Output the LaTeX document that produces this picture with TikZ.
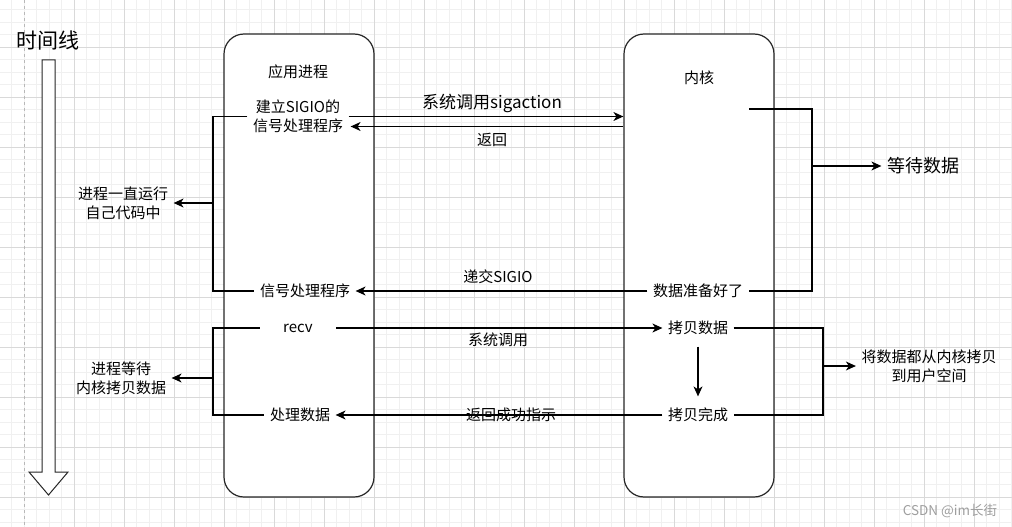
\documentclass[tikz,border=0pt]{standalone}
\usepackage{fontspec}
\setmainfont{Noto Sans CJK SC}
\usetikzlibrary{arrows.meta,calc}

\begin{document}
\begin{tikzpicture}[x=1pt,y=-1pt,line width=1.2pt,>={Stealth[length=10pt,width=9pt,inset=3pt]},box/.style ={rectangle, draw=black!85, fill=white, rounded corners=20pt, minimum width=150pt, minimum height=463pt},lbl/.style={inner sep=5pt, align=center, font=\fontsize{15}{19}\selectfont},gridminor/.style={draw=black!6, line width=0.8pt},gridmajor/.style={draw=black!15, line width=0.8pt}]
\useasboundingbox (0,0) rectangle (1012,527);
% grid
\foreach \gx in {-1,11.5,...,1012} \draw[gridminor] (\gx,0) -- (\gx,527);
\foreach \gy in {-3,9.5,...,527} \draw[gridminor] (0,\gy) -- (1012,\gy);
\foreach \gx in {74,124,...,974} \draw[gridmajor] (\gx,0) -- (\gx,527);
\foreach \gy in {47,97,...,497} \draw[gridmajor] (0,\gy) -- (1012,\gy);
\draw[gridmajor,dashed,draw=black!28] (24,0) -- (24,527);
\draw (48,40) node[lbl,font=\fontsize{21}{25}\selectfont] (T) {时间线};
\draw[line width=1pt,draw=black!85,fill=white] (42,60) -- (55,60) -- (55,472) -- (68,472) -- (48.5,495) -- (29,472) -- (42,472) -- cycle;
\draw (299,265.5) node[box] (A) {};
\draw (699,265.5) node[box] (K) {};
\draw (298,72) node[lbl] (A1) {应用进程};
\draw (298,116.5) node[lbl] (A2) {建立SIGIO的\\信号处理程序};
\draw (305,291) node[lbl] (A3) {信号处理程序};
\draw (298,328) node[lbl,minimum width=75pt] (A4) {recv};
\draw (300,415) node[lbl] (A5) {处理数据};
\draw (699,78) node[lbl] (K1) {内核};
\draw (698,291) node[lbl] (K2) {数据准备好了};
\draw (698,328) node[lbl] (K3) {拷贝数据};
\draw (698,415) node[lbl] (K4) {拷贝完成};
\draw (123,203) node[lbl] (L1) {进程一直运行\\自己代码中};
\draw (121,378) node[lbl] (L2) {进程等待\\内核拷贝数据};
\draw (923,166) node[lbl,font=\fontsize{18}{22}\selectfont] (R1) {等待数据};
\draw (929,366) node[lbl] (R2) {将数据都从内核拷贝\\到用户空间};
\draw (492,103) node[lbl,font=\fontsize{17}{21}\selectfont] (E1) {系统调用sigaction};
\draw (492,140) node[lbl] (E2) {返回};
\draw (498,277) node[lbl] (E3) {递交SIGIO};
\draw (498,340) node[lbl] (E4) {系统调用};
\draw (511,415) node[lbl] (E5) {返回成功指示};
\draw (950,511) node[lbl,font=\fontsize{13.5}{16}\selectfont,text=black!38] (WM) {CSDN @im长街};
\coordinate (J1) at (213,203);
\coordinate (J2) at (812,166);
\coordinate (J3) at (213,378);
\coordinate (J4) at (823,366);
\coordinate (W) at (749,109);
\draw[->] (A2.east) -- (A2.east -| K.west);
\draw[->] ([yshift=-10pt]A2.east -| K.west) -- ([yshift=-10pt,xshift=2pt]A2.east);
\draw (A2.west) -| (J1) |- (A3.west);
\draw[->] (J1) -- (L1.east);
\draw (W) -| (J2) |- (K2.east);
\draw[->] (J2) -- (R1.west);
\draw[->] (K2.west) -- (A3.east);
\draw[->] (A4.east) -- (K3.west);
\draw (A4.west) -| (J3) |- (A5.west);
\draw[->] (J3) -- (L2.east);
\draw (K3.east) -| (J4) |- (K4.east);
\draw[->] (J4) -- (R2.west);
\draw[->,shorten <=6pt,shorten >=6pt] (K3.south) -- (K4.north);
\draw[->] (K4.west) -- (A5.east);
\end{tikzpicture}
\end{document}
